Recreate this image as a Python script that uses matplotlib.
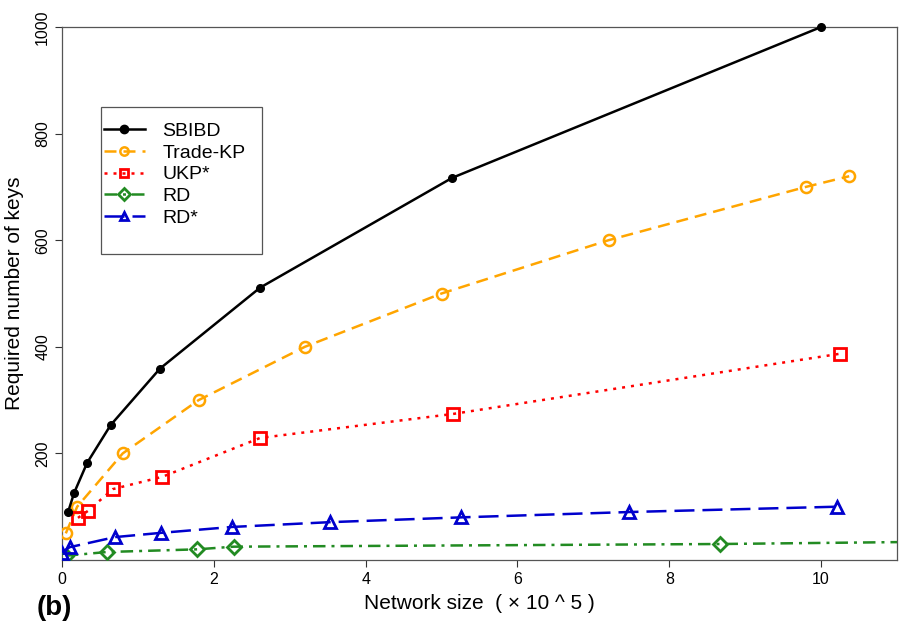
import matplotlib
matplotlib.use("Agg")
import matplotlib.pyplot as plt
from matplotlib.patches import Rectangle

plt.rcParams['font.family'] = ['Liberation Sans', 'DejaVu Sans']

sbibd_x = [0.08, 0.16, 0.33, 0.64, 1.29, 2.61, 5.14, 10.0]
sbibd_y = [90, 126, 182, 253, 359, 511, 717, 1000]

trade_x = [0.05, 0.2, 0.8, 1.8, 3.2, 5.0, 7.2, 9.8, 10.37]
trade_y = [50, 100, 200, 300, 400, 500, 600, 700, 720]

ukp_x = [0.21, 0.34, 0.67, 1.32, 2.61, 5.15, 10.25]
ukp_y = [79, 92, 133, 156, 229, 274, 387]

rd_x = [0.05, 0.59, 1.78, 2.26, 8.67, 11.3]
rd_y = [8, 15, 20, 25, 30, 34]

rds_x = [0.0, 0.1, 0.7, 1.31, 2.24, 3.53, 5.26, 7.47, 10.21]
rds_y = [14, 24, 43, 51, 62, 71, 80, 90, 100]

xticks = [0, 2, 4, 6, 8, 10]
yticks = [200, 400, 600, 800, 1000]

fig = plt.figure(figsize=(9, 6.24), dpi=100)
ax = fig.add_axes([62/900, 1-560/624, (897-62)/900, (560-27)/624])

lw = 1.8
ax.plot(sbibd_x, sbibd_y, color='black', lw=lw, ls='-', marker='o', ms=5.5,
        mfc='black', mec='black', label='SBIBD', clip_on=False, zorder=5)
ax.plot(trade_x, trade_y, color='#FFA500', lw=lw, ls=(0, (4.8, 2.8)), marker='o', ms=8,
        mfc='none', mec='#FFA500', mew=1.8, label='Trade-KP', zorder=4)
ax.plot(ukp_x, ukp_y, color='#FF0000', lw=lw, ls=(0, (1.2, 2.4)), marker='s', ms=8,
        mfc='none', mec='#FF0000', mew=2, label='UKP*', zorder=4)
ax.plot(rd_x, rd_y, color='#228B22', lw=lw, ls=(0, (5, 2.4, 1.2, 2.4)), marker='D', ms=7,
        mfc='none', mec='#228B22', mew=2, label='RD', zorder=4)
ax.plot(rds_x, rds_y, color='#0000CD', lw=lw, ls=(0, (8, 3.2)), marker='^', ms=9,
        mfc='none', mec='#0000CD', mew=2, label='RD*', zorder=4)

ax.set_xlim(0, 11)
ax.set_ylim(0, 1000)
ax.set_xticks(xticks)
ax.set_yticks(yticks)
ax.tick_params(direction='out', length=5, width=0.8, colors='#333333', labelsize=11.5, labelcolor='black')
for lab in ax.get_yticklabels():
    lab.set_rotation(90)
    lab.set_va('center')
for s in ax.spines.values():
    s.set_color('#555555')
    s.set_linewidth(0.9)

ax.set_xlabel('Network size  ( \u00d7 10 ^ 5 )', fontsize=15, labelpad=5)
ax.set_ylabel('Required number of keys', fontsize=15, labelpad=8)

fig.text(37/900, 1-608/624, '(b)', fontsize=20, fontweight='bold', va='center', ha='left')

leg = ax.legend(loc='upper left', bbox_to_anchor=(104/900, 1-122/624), bbox_transform=fig.transFigure,
                fontsize=14, frameon=False,
                handlelength=2.1, borderpad=0, labelspacing=0.22, handletextpad=0.9,
                borderaxespad=0)
for h in leg.legend_handles:
    h.set_markersize(6)

fig.add_artist(Rectangle((101/900, 1-254/624), (262-101)/900, (254-107)/624,
                         transform=fig.transFigure, fill=False, edgecolor='#555555', lw=0.9))

fig.savefig('out.png', dpi=100)
